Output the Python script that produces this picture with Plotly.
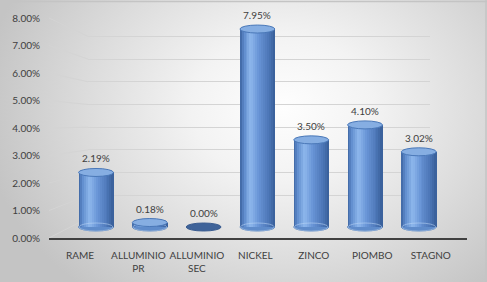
import plotly.graph_objects as go

# ---------------- data ----------------
categories = ["RAME", "ALLUMINIO<br>PR", "ALLUMINIO<br>SEC", "NICKEL", "ZINCO", "PIOMBO", "STAGNO"]
values = [2.19, 0.18, 0.00, 7.95, 3.50, 4.10, 3.02]
tick_values = [0, 1, 2, 3, 4, 5, 6, 7, 8]

# ---------------- layout constants (pixels) ----------------
W, H = 487, 282
FONT = "Lato"
TXT = "#404040"
GRID = "#d4d4d4"

lab_zero, lab_per = 238.0, 27.5      # front (label) scale
back_zero, back_per = 218.0, 22.7    # back wall scale
bar_zero, bar_per = 227.0, 24.9      # cylinder scale
bar_c0, bar_step = 96.0, 53.8
bar_w = 0.65
ell_h = 8.0 / bar_per

front_x0, front_x1 = 49.0, 467.0
back_x0, back_x1 = 88.0, 430.0


def px(x):
    return x / W


def py(y):
    return 1 - y / H


fig = go.Figure()

# ---- subplot 1 (x/y): background gradient + left-wall gridline segments ----
cx, cy, rx, ry = 0.58, 0.62, 0.62, 0.85
fig.add_trace(go.Scatter(
    x=[cx - rx, cx + rx, cx + rx, cx - rx, cx - rx],
    y=[cy - ry, cy - ry, cy + ry, cy + ry, cy - ry],
    mode="lines", line=dict(width=0), fill="toself",
    fillgradient=dict(type="radial",
                      colorscale=[[0, "#fefefe"], [0.3, "#f3f3f3"], [0.65, "#dcdcdc"], [1, "#c4c4c4"]]),
    xaxis="x", yaxis="y", showlegend=False, hoverinfo="skip"))

dx, dy = [], []
for v in tick_values:
    dx += [px(front_x0), px(back_x0), None]
    dy += [py(lab_zero - lab_per * v), py(back_zero - back_per * v), None]
fig.add_trace(go.Scatter(x=dx, y=dy, mode="lines", line=dict(color=GRID, width=1),
                         xaxis="x", yaxis="y", showlegend=False, hoverinfo="skip"))

# ---- subplot 2: back wall gridlines, subplot 3: front label axes ----
fig.add_trace(go.Scatter(x=[0], y=[None], xaxis="x2", yaxis="y2", showlegend=False, hoverinfo="skip"))
fig.add_trace(go.Scatter(x=list(range(len(categories))), y=[None] * len(categories),
                         xaxis="x3", yaxis="y3", showlegend=False, hoverinfo="skip"))


# ---- subplot 4: cylinders built from vertical strips ----
def lerp(a, b, t):
    return tuple(a[i] + (b[i] - a[i]) * t for i in range(3))


stops = [(0.0, (60, 100, 160)), (0.12, (95, 140, 205)), (0.32, (142, 184, 237)),
         (0.55, (104, 148, 214)), (0.85, (74, 116, 180)), (1.0, (56, 94, 152))]


def grad(t):
    for (t0, c0), (t1, c1) in zip(stops[:-1], stops[1:]):
        if t0 <= t <= t1:
            return lerp(c0, c1, (t - t0) / (t1 - t0))
    return stops[-1][1]


N = 18
sw = bar_w / N
xs = list(range(len(categories)))
for k in range(N):
    t = (k + 0.5) / N
    c = grad(t)
    fig.add_trace(go.Bar(
        x=xs, y=values, base=0, xaxis="x4", yaxis="y4",
        width=sw * 1.25, offset=-bar_w / 2 + k * sw - (0.1 * sw if k else 0),
        marker=dict(color="rgb(%d,%d,%d)" % c, line=dict(width=0)),
        showlegend=False, hoverinfo="skip"))

shapes = []
for i, v in enumerate(values):
    x0, x1 = i - bar_w / 2, i + bar_w / 2
    if v > 0:
        shapes.append(dict(type="circle", xref="x4", yref="y4", x0=x0, x1=x1,
                           y0=-ell_h / 2, y1=ell_h / 2,
                           fillcolor="#5f8ccb", line=dict(color="#4a76b3", width=1), layer="between"))
        shapes.append(dict(type="circle", xref="x4", yref="y4", x0=x0 + 0.01, x1=x1 - 0.01,
                           y0=-ell_h / 2, y1=ell_h / 2,
                           line=dict(color="rgba(190,215,245,0.55)", width=1), layer="above"))
        shapes.append(dict(type="circle", xref="x4", yref="y4", x0=x0, x1=x1,
                           y0=v - ell_h / 2, y1=v + ell_h / 2,
                           fillcolor="#86aee2", line=dict(color="#4a78b8", width=1), layer="above"))
    else:
        shapes.append(dict(type="circle", xref="x4", yref="y4", x0=x0, x1=x1,
                           y0=-ell_h / 2, y1=ell_h / 2,
                           fillcolor="#3f6399", line=dict(color="#3a5c90", width=1), layer="above"))

shapes.append(dict(type="line", xref="paper", yref="paper", x0=0, x1=1, y0=py(1.5), y1=py(1.5),
                   line=dict(color="#c4c4c4", width=1.5)))
shapes.append(dict(type="line", xref="paper", yref="paper", x0=px(486), x1=px(486), y0=0, y1=1,
                   line=dict(color="#c4c4c4", width=1.5)))

annotations = [dict(x=i, y=v, xref="x4", yref="y4", text=f"{v:.2f}%", showarrow=False,
                    yshift=14, font=dict(family=FONT, size=10, color=TXT))
               for i, v in enumerate(values)]

hidden = dict(visible=False, automargin=False, fixedrange=True)

fig.update_layout(
    width=W, height=H, margin=dict(l=0, r=0, t=0, b=0, autoexpand=False),
    paper_bgcolor="#e2e2e2", plot_bgcolor="rgba(0,0,0,0)",
    barmode="overlay", bargap=0, showlegend=False,
    font=dict(family=FONT, size=10, color=TXT),
    # background subplot
    xaxis=dict(domain=[0, 1], range=[0, 1], anchor="y", **hidden),
    yaxis=dict(domain=[0, 1], range=[0, 1], anchor="x", **hidden),
    # back wall
    xaxis2=dict(domain=[px(back_x0), px(back_x1)], range=[0, 1], anchor="y2", **hidden),
    yaxis2=dict(anchor="x2", domain=[0, 1], range=[(back_zero - H) / back_per, back_zero / back_per],
                tickvals=tick_values[1:], showticklabels=False, showgrid=True, gridcolor=GRID,
                gridwidth=1, zeroline=False, showline=False, ticks="", automargin=False),
    # front label axes
    xaxis3=dict(domain=[px(front_x0), px(front_x1)], anchor="y3",
                range=[-0.53, len(categories) - 1 + 0.62],
                tickvals=list(range(len(categories))), ticktext=categories,
                showgrid=False, zeroline=False, showline=True, linecolor="#404040", linewidth=1.5,
                ticks="outside", ticklen=7, tickcolor="rgba(0,0,0,0)", automargin=False,
                tickfont=dict(family=FONT, size=10, color=TXT)),
    yaxis3=dict(anchor="x3", domain=[py(lab_zero), 1], range=[0, lab_zero / lab_per],
                tickvals=tick_values, ticktext=[f"{v:.2f}%" for v in tick_values],
                showgrid=False, zeroline=False, showline=False, automargin=False,
                ticks="outside", ticklen=6, tickcolor="rgba(0,0,0,0)",
                tickfont=dict(family=FONT, size=10, color=TXT)),
    # cylinders
    xaxis4=dict(domain=[0, 1], anchor="y4", range=[-bar_c0 / bar_step, (W - bar_c0) / bar_step], **hidden),
    yaxis4=dict(domain=[0, 1], anchor="x4", range=[(bar_zero - H) / bar_per, bar_zero / bar_per], **hidden),
    shapes=shapes, annotations=annotations,
)

fig.write_html("out.html")
